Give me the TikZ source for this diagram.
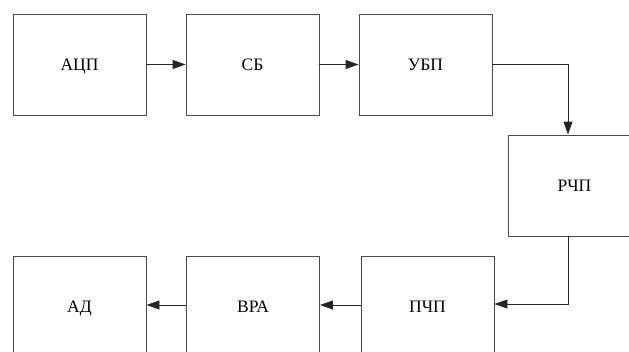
\documentclass[tikz,border=0pt]{standalone}
\usepackage{fontspec}
\setmainfont{Liberation Serif}
\usetikzlibrary{arrows.meta}
\begin{document}
\begin{tikzpicture}[x=1pt,y=-1pt,
  blk/.style={draw=black!70, line width=0.9pt, minimum width=133pt, minimum height=101pt, inner sep=0pt, text depth=0pt, font=\fontsize{17.5}{20}\selectfont},
  conn/.style={draw=black!85, line width=0.9pt, -{Triangle[length=13pt,width=9pt]}}]
\useasboundingbox (0,0) rectangle (629,351);
\clip (0,0) rectangle (629,351);
\node[blk] (adc) at (79.5,64.5) {АЦП};
\node[blk] (sb) at (252.5,64.5) {СБ};
\node[blk] (ubp) at (425.5,64.5) {УБП};
\node[blk] (rchp) at (574.5,185.5) {РЧП};
\node[blk] (pchp) at (427.5,306.5) {ПЧП};
\node[blk] (vra) at (253,306.5) {ВРА};
\node[blk] (ad) at (79.5,306.5) {АД};
\coordinate (c1) at (568,64);
\coordinate (c2) at (568,304);
\draw[conn] (adc.east) -- (sb.west);
\draw[conn] (sb.east) -- (ubp.west);
\draw[conn] (ubp.east |- c1) -- (c1) -- (c1 |- rchp.north);
\draw[conn] (c2 |- rchp.south) -- (c2) -- (c2 -| pchp.east);
\draw[conn] (pchp.west |- 0,305) -- (vra.east |- 0,305);
\draw[conn] (vra.west |- 0,305) -- (ad.east |- 0,305);
\end{tikzpicture}
\end{document}
